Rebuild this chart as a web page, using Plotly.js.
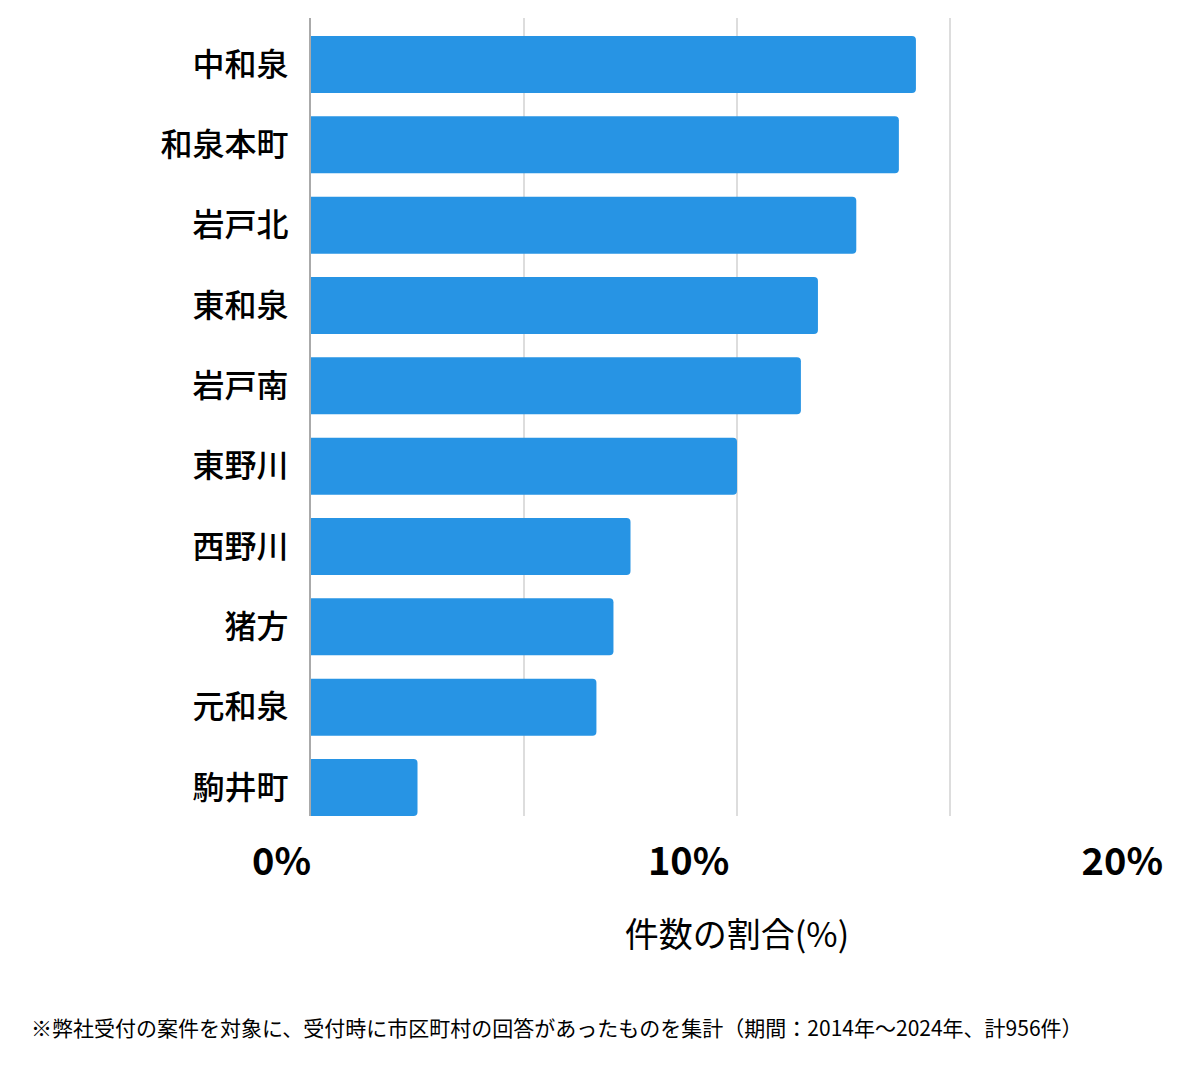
<!DOCTYPE html>
<html>
<head>
<meta charset="utf-8">
<script src="https://cdn.plot.ly/plotly-3.0.1.min.js"></script>
<style>
  html, body { margin: 0; padding: 0; background: #fff; }
  #chart { width: 1200px; height: 1069px; }
</style>
</head>
<body>
<div id="chart"></div>
<script>
const categories = ["中和泉", "和泉本町", "岩戸北", "東和泉", "岩戸南", "東野川", "西野川", "猪方", "元和泉", "駒井町"];
const shares = [14.2, 13.8, 12.8, 11.9, 11.5, 10.0, 7.5, 7.1, 6.7, 2.5];
const tickValues = [0, 5, 10, 15, 20];
const tickLabels = ["0%", "", "10%\u2009", "", "20%"];
const xTitle = "件数の割合(%)";
const footnote = "※弊社受付の案件を対象に、受付時に市区町村の回答があったものを集計（期間：2014年～2024年、計956件）";

const jp = '"Noto Sans CJK JP", "Noto Sans", sans-serif';

const trace = {
  type: "bar",
  orientation: "h",
  y: categories,
  x: shares,
  marker: { color: "#2794e4", cornerradius: 4, line: { width: 0 } },
  hoverinfo: "skip"
};

const layout = {
  width: 1200,
  height: 1069,
  paper_bgcolor: "#ffffff",
  plot_bgcolor: "#ffffff",
  margin: { l: 311, r: 37, t: 18, b: 253 },
  bargap: 0.29,
  showlegend: false,
  xaxis: {
    range: [0, 20],
    tickvals: tickValues,
    ticktext: tickLabels,
    ticks: "",
    ticklabelposition: "outside left",
    ticklabelstandoff: 20,
    showgrid: true,
    gridcolor: "#dddddd",
    gridwidth: 2,
    zeroline: false,
    showline: false,
    tickfont: { family: jp, size: 38, color: "#000000", weight: "bold" },
    title: { text: xTitle, font: { family: jp, size: 34, color: "#000000" }, standoff: 38 },
    fixedrange: true
  },
  yaxis: {
    type: "category",
    range: [9.355, -0.579],
    ticks: "",
    ticklabelstandoff: 14,
    showgrid: false,
    zeroline: false,
    showline: true,
    linecolor: "#aaaaaa",
    linewidth: 2,
    tickfont: { family: jp, size: 32, color: "#000000", weight: 500 },
    fixedrange: true
  },
  annotations: [{
    text: footnote,
    xref: "paper", yref: "paper",
    x: (29 - 311) / 852, y: -(1027 - 816) / 798,
    xanchor: "left", yanchor: "middle",
    showarrow: false,
    font: { family: jp, size: 21, color: "#000000" }
  }]
};

Plotly.newPlot("chart", [trace], layout, { displayModeBar: false, staticPlot: true });
</script>
</body>
</html>
